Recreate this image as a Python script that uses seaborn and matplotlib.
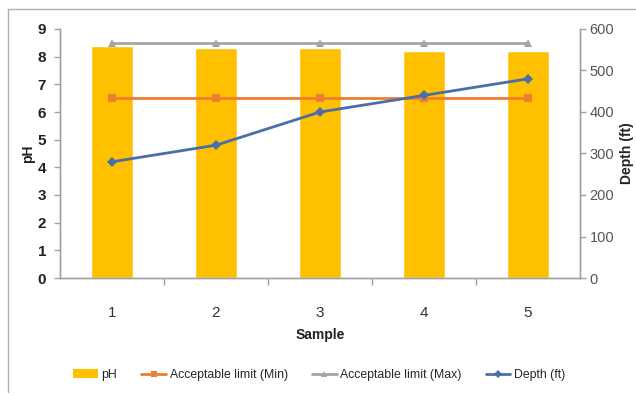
import matplotlib
matplotlib.use("Agg")
import matplotlib.pyplot as plt
from matplotlib.lines import Line2D
from matplotlib.patches import Patch
import seaborn as sns
import pandas as pd

samples = ["1", "2", "3", "4", "5"]
ph = [8.4, 8.3, 8.3, 8.2, 8.2]
limit_min = [6.5, 6.5, 6.5, 6.5, 6.5]
limit_max = [8.5, 8.5, 8.5, 8.5, 8.5]
depth_ft = [280, 320, 400, 440, 480]

sns.set_theme(style="white")
plt.rcParams["font.family"] = ["Liberation Sans", "DejaVu Sans"]

df = pd.DataFrame({"Sample": samples, "pH": ph, "Min": limit_min,
                   "Max": limit_max, "Depth": depth_ft})

c_bar = "#FFC000"
c_min = "#ED7D31"
c_max = "#A5A5A5"
c_depth = "#4A6FA8"
c_axis = "#A0A0A0"

fig = plt.figure(figsize=(6.36, 3.96), dpi=100)
ax = fig.add_axes([60 / 636, 1 - 278 / 396, 520 / 636, 249 / 396])

sns.barplot(data=df, x="Sample", y="pH", color=c_bar, width=0.4,
            saturation=1, ax=ax)
sns.lineplot(data=df, x="Sample", y="Min", color=c_min, marker="s",
             markersize=6, markeredgewidth=0, linewidth=2, ax=ax)
sns.lineplot(data=df, x="Sample", y="Max", color=c_max, marker="^",
             markersize=6, markeredgewidth=0, linewidth=2, ax=ax)

ax.set_xlim(-0.5, 4.5)
ax.set_ylim(0, 9)
ax.set_yticks(range(0, 10))
ax.set_ylabel("pH", fontsize=10, fontweight="bold", color="#222222")
ax.yaxis.set_label_coords(-25 / 520, 0.5)
ax.set_xlabel("Sample", fontsize=10, fontweight="bold", color="#222222", labelpad=6)

ax2 = ax.twinx()
sns.lineplot(data=df, x="Sample", y="Depth", color=c_depth, marker="D",
             markersize=5, markeredgewidth=0, linewidth=2, ax=ax2)
ax2.set_ylim(0, 600)
ax2.set_yticks(range(0, 700, 100))
ax2.set_ylabel("Depth (ft)", fontsize=10, fontweight="bold", color="#222222")
ax2.yaxis.set_label_coords(560 / 520, 0.5)
ax2.set_xlim(-0.5, 4.5)

for a in (ax, ax2):
    for s in a.spines.values():
        s.set_color(c_axis)
        s.set_linewidth(1)
    a.spines["top"].set_visible(False)

ax.tick_params(axis="y", which="both", left=True, length=4, width=1,
               color=c_axis, labelsize=11, labelcolor="#222222", pad=6)
for t in ax.get_yticklabels():
    t.set_fontweight("bold")
ax.tick_params(axis="x", bottom=False, labelsize=11, labelcolor="#333333", pad=14)
ax.set_xticks([0.5, 1.5, 2.5, 3.5], minor=True)
ax.tick_params(axis="x", which="minor", bottom=True, length=5, width=1,
               color=c_axis)
ax2.tick_params(axis="y", right=True, length=4, width=1, color=c_axis,
                labelsize=10.5, labelcolor="#555555", pad=3)

handles = [
    Patch(facecolor=c_bar, edgecolor="none", label="pH"),
    Line2D([], [], color=c_min, marker="s", markersize=5, markeredgewidth=0,
           linewidth=2, label="Acceptable limit (Min)"),
    Line2D([], [], color=c_max, marker="^", markersize=5, markeredgewidth=0,
           linewidth=2, label="Acceptable limit (Max)"),
    Line2D([], [], color=c_depth, marker="D", markersize=4, markeredgewidth=0,
           linewidth=2, label="Depth (ft)"),
]
fig.legend(handles=handles, loc="center", bbox_to_anchor=(0.502, 0.053),
           ncol=4, frameon=False, fontsize=8.8, handlelength=2.0,
           handletextpad=0.3, columnspacing=2.0)

# outer frame
fig.add_artist(Line2D([8 / 636, 8 / 636], [0.01, 1 - 9 / 396],
                      transform=fig.transFigure, color="#B0B0B0", linewidth=1))
fig.add_artist(Line2D([8 / 636, 1.0], [1 - 9 / 396, 1 - 9 / 396],
                      transform=fig.transFigure, color="#B0B0B0", linewidth=1))

fig.savefig("out.png", dpi=100)
